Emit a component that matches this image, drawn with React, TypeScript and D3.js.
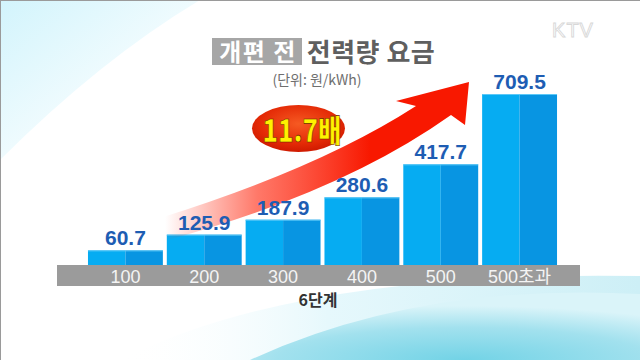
import React from 'react';
import * as d3 from 'd3';

// 개편 전 전력량 요금 (원/kWh), 6단계
const steps = ['100', '200', '300', '400', '500', '500초과'];
const rates = [60.7, 125.9, 187.9, 280.6, 417.7, 709.5];
const multiple = '11.7배';

const W = 640;
const H = 360;
const base = 265;
const numFont = '"Liberation Sans", Arial, "Noto Sans CJK KR", sans-serif';
const krFont = '"Noto Sans CJK KR", "Noto Sans", sans-serif';

export default function App() {
  const x = d3.scaleBand<string>()
    .domain(steps)
    .range([86, 559])
    .paddingInner(0.05)
    .paddingOuter(0.025);

  const y = d3.scaleLinear()
    .domain([0, d3.max(rates) as number])
    .range([base, 94]);

  const bw = x.bandwidth();

  return (
    <svg width={W} height={H} style={{ position: 'absolute', left: 0, top: 0 }}>
      <defs>
        <linearGradient id="tl" x1="0" y1="0" x2="1" y2="1">
          <stop offset="0" stopColor="#d2f4fc" />
          <stop offset="0.5" stopColor="#effbfe" />
          <stop offset="1" stopColor="#ffffff" stopOpacity="0" />
        </linearGradient>
        <linearGradient id="bot" x1="0" y1="0" x2="1" y2="0">
          <stop offset="0" stopColor="#ffffff" stopOpacity="0" />
          <stop offset="0.4" stopColor="#e6f8fc" />
          <stop offset="1" stopColor="#cdeff6" />
        </linearGradient>
        <radialGradient id="dome" cx="0.55" cy="1" r="0.8">
          <stop offset="0" stopColor="#72d3e6" />
          <stop offset="0.6" stopColor="#a2e1ee" />
          <stop offset="1" stopColor="#daf4f9" />
        </radialGradient>
        <linearGradient id="arrowG" gradientUnits="userSpaceOnUse" x1="165" y1="0" x2="370" y2="0">
          <stop offset="0" stopColor="#ff2a10" stopOpacity="0" />
          <stop offset="0.45" stopColor="#ff3018" stopOpacity="0.65" />
          <stop offset="1" stopColor="#f81800" />
        </linearGradient>
        <radialGradient id="ellG" cx="0.5" cy="0.4" r="0.6">
          <stop offset="0" stopColor="#f65a22" />
          <stop offset="0.7" stopColor="#e42a06" />
          <stop offset="1" stopColor="#cf1a00" />
        </radialGradient>
      </defs>

      <rect width={W} height={H} fill="#ffffff" />
      <path d="M0,0 L200,0 Q100,60 0,160 Z" fill="url(#tl)" />
      <path d="M120,360 Q300,270 640,276 L640,360 Z" fill="url(#bot)" />
      <path d="M250,360 Q420,282 640,294 L640,360 Z" fill="url(#dome)" />
      <line x1="0" y1="0.5" x2={W} y2="0.5" stroke="#9a9a9a" />
      <line x1="0.5" y1="0" x2="0.5" y2={H} stroke="#9a9a9a" />

      <text x="573" y="37" textAnchor="middle" fontFamily={numFont} fontSize="20"
        fill="#ffffff" stroke="#d8d8d8" strokeWidth="0.9" letterSpacing="1">KTV</text>

      {/* title */}
      <rect x="212" y="38" width="90" height="27" fill="#a6a6a6" />
      <text x="258" y="61" textAnchor="middle" fontFamily={krFont} fontWeight="bold"
        fontSize="24" fill="#ffffff" letterSpacing="1.5">개편 전</text>
      <text x="371" y="62" textAnchor="middle" fontFamily={krFont} fontWeight="bold"
        fontSize="26" fill="#5f5f5f" letterSpacing="0.5">전력량 요금</text>
      <text x="317" y="85" textAnchor="middle" fontFamily={krFont}
        fontSize="14" fill="#6e6e6e">(단위: 원/kWh)</text>

      {/* bars */}
      {steps.map((s, i) => {
        const bx = x(s) as number;
        const by = y(rates[i]);
        return (
          <g key={s}>
            <rect x={bx} y={by} width={bw / 2} height={base - by} fill="#06acf2" />
            <rect x={bx + bw / 2} y={by} width={bw / 2} height={base - by} fill="#0895e2" />
            <rect x={bx} y={by} width={bw} height={1} fill="#5cc8f7" />
          </g>
        );
      })}

      {/* arrow */}
      <path
        d="M160,218 Q320,168 416,106 L396,101 L469,82 L465,125 L451,115 Q340,194 160,242 Z"
        fill="url(#arrowG)" />

      {/* value labels */}
      {steps.map((s, i) => (
        <text key={s} x={(x(s) as number) + bw / 2} y={y(rates[i]) - 5} textAnchor="middle"
          fontFamily={numFont} fontWeight="bold" fontSize="21" fill="#1e5db3">{rates[i]}</text>
      ))}

      <ellipse cx="298.5" cy="128.5" rx="46.5" ry="23.5" fill="url(#ellG)" />
      <text x="302" y="142" textAnchor="middle" fontFamily={krFont} fontWeight="900"
        fontSize="31" fill="#fff200" stroke="#6a2000" strokeWidth="0.6"
        textLength="79" lengthAdjust="spacingAndGlyphs">{multiple}</text>

      {/* axis band */}
      <rect x="57" y={base} width={523} height={21} fill="#9b9b9b" />
      {steps.map(s => (
        <text key={s} x={(x(s) as number) + bw / 2} y={283} textAnchor="middle"
          fontFamily={numFont} fontSize="18" fill="#f4f4f4">{s}</text>
      ))}
      <text x="318" y="306" textAnchor="middle" fontFamily={krFont} fontWeight="bold"
        fontSize="16" fill="#333333">6단계</text>
    </svg>
  );
}
